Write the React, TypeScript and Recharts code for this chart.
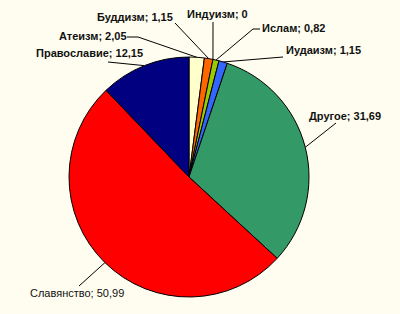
import { Cell, Pie, PieChart } from 'recharts';

const categories = ['Атеизм', 'Буддизм', 'Индуизм', 'Ислам', 'Иудаизм', 'Другое', 'Славянство', 'Православие'];
const shares = [2.05, 1.15, 0, 0.82, 1.15, 31.69, 50.99, 12.15];
const colors = ['#FFFFCC', '#FF6600', '#FFCC00', '#99CC00', '#3366FF', '#339966', '#FF0000', '#000080'];

const data = categories.map((name, i) => ({ name, value: shares[i] }));

// where each label's text sits and where its leader line leaves it
const labelLayout = [
  { x: 59, y: 40, line: [[127, 37], [138, 37]], bold: true },
  { x: 97, y: 21, line: [[175, 23]], bold: true },
  { x: 187, y: 18, line: [[213, 22]], bold: true },
  { x: 262, y: 32, line: [[260, 29], [253, 29]], bold: true },
  { x: 286, y: 54, line: [[283, 57]], bold: true },
  { x: 309, y: 120, line: [[336, 123]], bold: true },
  { x: 30, y: 297, line: [[79, 286]], bold: false },
  { x: 36, y: 57, line: [[108, 62]], bold: true },
];

const RAD = Math.PI / 180;

function renderLabel(props: any) {
  const { cx, cy, midAngle, outerRadius, index, name, value } = props;
  const l = labelLayout[index];
  const ex = cx + outerRadius * Math.cos(-midAngle * RAD);
  const ey = cy + outerRadius * Math.sin(-midAngle * RAD);
  const pts = [...l.line, [ex, ey]].map((p) => p.join(',')).join(' ');
  return (
    <g key={name}>
      <polyline points={pts} fill="none" stroke="#000" strokeWidth={1} />
      <text
        x={l.x}
        y={l.y}
        fontSize={11}
        fontWeight={l.bold ? 'bold' : 'normal'}
        fontFamily="'Liberation Sans', Arial, sans-serif"
        fill="#111"
      >
        {`${name}; ${String(value).replace('.', ',')}`}
      </text>
    </g>
  );
}

export default function App() {
  return (
    <div style={{ position: 'fixed', left: 0, top: 0, width: 400, height: 314, background: '#FFFDF0' }}>
      <PieChart width={400} height={314} margin={{ top: 0, right: 0, bottom: 0, left: 0 }}>
        <Pie
          data={data}
          dataKey="value"
          nameKey="name"
          cx={189}
          cy={177}
          outerRadius={120}
          startAngle={90}
          endAngle={-270}
          stroke="#000"
          strokeWidth={1}
          label={renderLabel}
          labelLine={false}
          isAnimationActive={false}
        >
          {data.map((d, i) => (
            <Cell key={d.name} fill={colors[i]} />
          ))}
        </Pie>
      </PieChart>
    </div>
  );
}
